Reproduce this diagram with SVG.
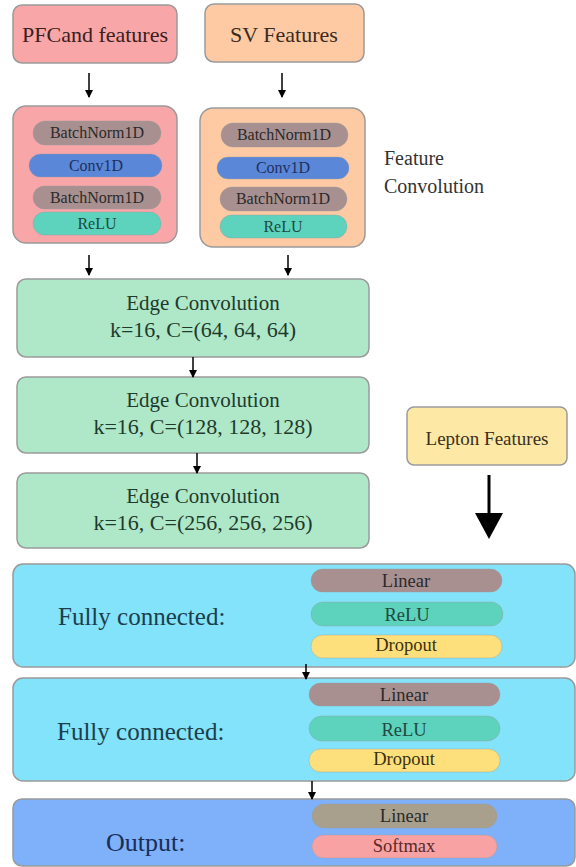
<svg xmlns="http://www.w3.org/2000/svg" width="576" height="867" viewBox="0 0 576 867">
<defs>
<marker id="ah" markerWidth="8" markerHeight="8" refX="7" refY="4" orient="auto" markerUnits="userSpaceOnUse">
<path d="M0,0 L8,4 L0,8 z" fill="#000"/>
</marker>
</defs>
<rect width="576" height="867" fill="#fff"/>

<g font-family="Liberation Serif" text-anchor="middle">
<g id="pfcand">
<rect x="13" y="5" width="164" height="58" rx="9" fill="#f8a6a8" stroke="#9a9a9a" stroke-width="1.5"/>
<text x="95" y="42" fill="#3a2020" font-family="Liberation Serif" font-size="22">PFCand features</text>
</g>
<g id="sv">
<rect x="205" y="4" width="159" height="58" rx="9" fill="#fdcaa3" stroke="#9a9a9a" stroke-width="1.5"/>
<text x="284" y="42" fill="#3a2a20" font-family="Liberation Serif" font-size="22">SV Features</text>
</g>

<g id="pfcand-conv">
<rect x="13" y="106" width="164" height="137" rx="13" fill="#f8a6a8" stroke="#9a9a9a" stroke-width="1.5"/>
<g stroke="#9a9a9a" stroke-width="0.8" stroke-opacity="0.5">
<rect x="33" y="121" width="128" height="24" rx="12" fill="#a99090"/>
<rect x="29" y="154" width="133" height="23" rx="11.5" fill="#5b87d8"/>
<rect x="33" y="186" width="128" height="23" rx="11.5" fill="#a99090"/>
<rect x="33" y="212" width="128" height="23" rx="11.5" fill="#5dd3bd"/>
</g>
<g font-family="Liberation Serif" font-size="16">
<text x="97" y="138" fill="#2a2a2a" font-family="Liberation Serif">BatchNorm1D</text>
<text x="96" y="171" fill="#1e3060" font-family="Liberation Serif">Conv1D</text>
<text x="97" y="203" fill="#2a2a2a" font-family="Liberation Serif">BatchNorm1D</text>
<text x="97" y="229" fill="#1e4a40" font-family="Liberation Serif">ReLU</text>
</g>
</g>

<g id="sv-conv">
<rect x="200" y="108" width="165" height="139" rx="13" fill="#fdcaa3" stroke="#9a9a9a" stroke-width="1.5"/>
<g stroke="#9a9a9a" stroke-width="0.8" stroke-opacity="0.5">
<rect x="221" y="123" width="127" height="24" rx="12" fill="#a99090"/>
<rect x="217" y="157" width="132" height="22" rx="11" fill="#5b87d8"/>
<rect x="220" y="187" width="127" height="24" rx="12" fill="#a99090"/>
<rect x="220" y="215" width="127" height="23" rx="11.5" fill="#5dd3bd"/>
</g>
<g font-family="Liberation Serif" font-size="16">
<text x="284" y="140" fill="#2a2a2a" font-family="Liberation Serif">BatchNorm1D</text>
<text x="283" y="173" fill="#1e3060" font-family="Liberation Serif">Conv1D</text>
<text x="283" y="204" fill="#2a2a2a" font-family="Liberation Serif">BatchNorm1D</text>
<text x="283" y="232" fill="#1e4a40" font-family="Liberation Serif">ReLU</text>
</g>
</g>

<g id="feature-conv-label" font-size="20" text-anchor="start" fill="#333">
<text x="384" y="165" font-family="Liberation Serif">Feature</text>
<text x="384" y="193" font-family="Liberation Serif">Convolution</text>
</g>

<g id="edge1">
<rect x="17" y="279" width="352" height="78" rx="9" fill="#aee8c9" stroke="#9a9a9a" stroke-width="1.5"/>
<text x="203" y="310" fill="#1f3a2c" font-family="Liberation Serif" font-size="21">Edge Convolution</text>
<text x="203" y="337" fill="#1f3a2c" font-family="Liberation Serif" font-size="22">k=16, C=(64, 64, 64)</text>
</g>
<g id="edge2">
<rect x="17" y="377" width="352" height="76" rx="9" fill="#aee8c9" stroke="#9a9a9a" stroke-width="1.5"/>
<text x="203" y="407" fill="#1f3a2c" font-family="Liberation Serif" font-size="21">Edge Convolution</text>
<text x="203" y="434" fill="#1f3a2c" font-family="Liberation Serif" font-size="22">k=16, C=(128, 128, 128)</text>
</g>
<g id="edge3">
<rect x="17" y="473" width="352" height="75" rx="9" fill="#aee8c9" stroke="#9a9a9a" stroke-width="1.5"/>
<text x="203" y="503" fill="#1f3a2c" font-family="Liberation Serif" font-size="21">Edge Convolution</text>
<text x="203" y="530" fill="#1f3a2c" font-family="Liberation Serif" font-size="22">k=16, C=(256, 256, 256)</text>
</g>

<g id="lepton">
<rect x="407" y="407" width="160" height="58" rx="7" fill="#fde8a5" stroke="#9a9a9a" stroke-width="1.5"/>
<text x="487" y="445" fill="#3a3020" font-family="Liberation Serif" font-size="19">Lepton Features</text>
</g>

<g id="fc1">
<rect x="13" y="564" width="562" height="103" rx="10" fill="#82e3fb" stroke="#9a9a9a" stroke-width="1.5"/>
<text x="58" y="625" fill="#1d3e4a" font-family="Liberation Serif" font-size="25" text-anchor="start">Fully connected:</text>
<g stroke="#9a9a9a" stroke-width="0.8" stroke-opacity="0.5">
<rect x="311" y="569" width="191" height="23" rx="11.5" fill="#a99090"/>
<rect x="311" y="602" width="192" height="24" rx="12" fill="#5dd3bd"/>
<rect x="311" y="635" width="191" height="23" rx="11.5" fill="#fde07c"/>
</g>
<g font-size="18.5">
<text x="406" y="587" fill="#2a2a2a" font-family="Liberation Serif">Linear</text>
<text x="407" y="621" fill="#1e4a40" font-family="Liberation Serif">ReLU</text>
<text x="406" y="651" fill="#3a3010" font-family="Liberation Serif">Dropout</text>
</g>
</g>

<g id="fc2">
<rect x="13" y="678" width="562" height="103" rx="10" fill="#82e3fb" stroke="#9a9a9a" stroke-width="1.5"/>
<text x="57" y="740" fill="#1d3e4a" font-family="Liberation Serif" font-size="25" text-anchor="start">Fully connected:</text>
<g stroke="#9a9a9a" stroke-width="0.8" stroke-opacity="0.5">
<rect x="309" y="683" width="191" height="23" rx="11.5" fill="#a99090"/>
<rect x="309" y="716" width="191" height="25" rx="12.5" fill="#5dd3bd"/>
<rect x="309" y="749" width="191" height="23" rx="11.5" fill="#fde07c"/>
</g>
<g font-size="18.5">
<text x="404" y="701" fill="#2a2a2a" font-family="Liberation Serif">Linear</text>
<text x="404" y="736" fill="#1e4a40" font-family="Liberation Serif">ReLU</text>
<text x="404" y="765" fill="#3a3010" font-family="Liberation Serif">Dropout</text>
</g>
</g>

<g id="output">
<rect x="13" y="799" width="562" height="67" rx="9" fill="#7fb1fb" stroke="#9a9a9a" stroke-width="1.5"/>
<text x="106" y="851" fill="#1a2e55" font-family="Liberation Serif" font-size="26" text-anchor="start">Output:</text>
<g stroke="#9a9a9a" stroke-width="0.8" stroke-opacity="0.5">
<rect x="312" y="804" width="185" height="24" rx="12" fill="#a8a08d"/>
<rect x="312" y="835" width="185" height="23" rx="11.5" fill="#f9a2a3"/>
</g>
<g font-size="18.5">
<text x="404" y="822" fill="#2a2a2a" font-family="Liberation Serif">Linear</text>
<text x="404" y="852" fill="#5a2a2a" font-family="Liberation Serif">Softmax</text>
</g>
</g>
</g>

<g id="connectors" stroke="#000" stroke-width="1.5">
<line x1="89" y1="73" x2="89" y2="97" marker-end="url(#ah)"/>
<line x1="282" y1="73" x2="282" y2="97" marker-end="url(#ah)"/>
<line x1="89" y1="255" x2="89" y2="275" marker-end="url(#ah)"/>
<line x1="288" y1="255" x2="288" y2="275" marker-end="url(#ah)"/>
<line x1="193" y1="357" x2="193" y2="377" marker-end="url(#ah)"/>
<line x1="197" y1="453" x2="197" y2="473" marker-end="url(#ah)"/>
<line x1="306" y1="664" x2="306" y2="679" marker-end="url(#ah)"/>
<line x1="312" y1="781" x2="312" y2="799" marker-end="url(#ah)"/>
<line x1="489" y1="475" x2="489" y2="515" stroke-width="3"/>
<path d="M475,513 L503,513 L489,539 z" fill="#000" stroke="none"/>
</g>
</svg>
